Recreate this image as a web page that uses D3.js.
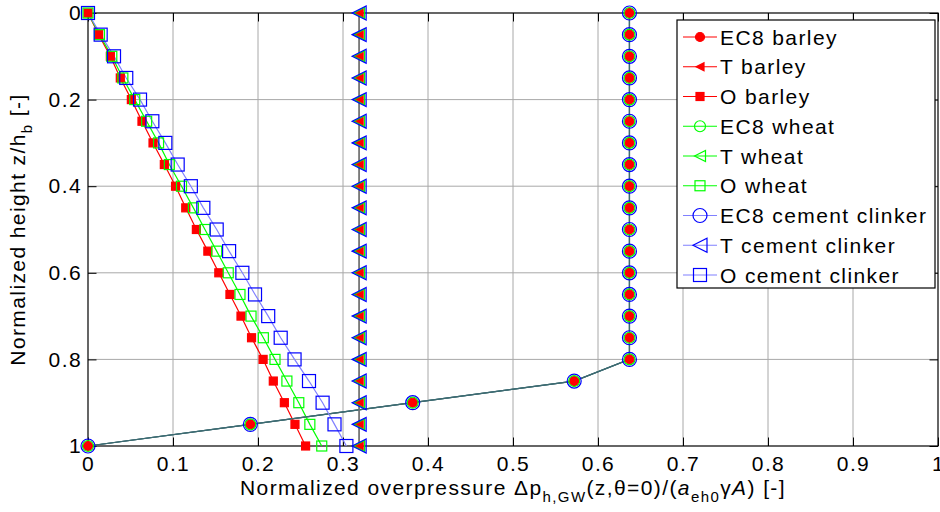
<!DOCTYPE html>
<html>
<head>
<meta charset="utf-8">
<script src="https://cdn.jsdelivr.net/npm/d3@7"></script>
<style>
  body { margin: 0; background: #fff; }
  svg text { font-family: "Liberation Sans", Arial, sans-serif; letter-spacing: 1.4px; }
</style>
</head>
<body>
<svg id="chart" width="940" height="512"></svg>
<script>
// normalized height z/h_b (vertical axis)
var zLevels = [0, 0.05, 0.1, 0.15, 0.2, 0.25, 0.3, 0.35, 0.4, 0.45, 0.5,
               0.55, 0.6, 0.65, 0.7, 0.75, 0.8, 0.85, 0.9, 0.95, 1];

// EC8 (all three grains give the same curve)
var ec8Barley = [0.637, 0.637, 0.637, 0.637, 0.637, 0.637, 0.637, 0.637, 0.637, 0.637, 0.637,
                 0.637, 0.637, 0.637, 0.637, 0.637, 0.637, 0.572, 0.382, 0.191, 0];
var ec8Wheat  = [0.637, 0.637, 0.637, 0.637, 0.637, 0.637, 0.637, 0.637, 0.637, 0.637, 0.637,
                 0.637, 0.637, 0.637, 0.637, 0.637, 0.637, 0.572, 0.382, 0.191, 0];
var ec8Cement = [0.637, 0.637, 0.637, 0.637, 0.637, 0.637, 0.637, 0.637, 0.637, 0.637, 0.637,
                 0.637, 0.637, 0.637, 0.637, 0.637, 0.637, 0.572, 0.382, 0.191, 0];

// T (constant)
var tBarley = [0.319, 0.319, 0.319, 0.319, 0.319, 0.319, 0.319, 0.319, 0.319, 0.319, 0.319,
               0.319, 0.319, 0.319, 0.319, 0.319, 0.319, 0.319, 0.319, 0.319, 0.319];
var tWheat  = [0.319, 0.319, 0.319, 0.319, 0.319, 0.319, 0.319, 0.319, 0.319, 0.319, 0.319,
               0.319, 0.319, 0.319, 0.319, 0.319, 0.319, 0.319, 0.319, 0.319, 0.319];
var tCement = [0.319, 0.319, 0.319, 0.319, 0.319, 0.319, 0.319, 0.319, 0.319, 0.319, 0.319,
               0.319, 0.319, 0.319, 0.319, 0.319, 0.319, 0.319, 0.319, 0.319, 0.319];

// O
var oBarley = [0, 0.0125, 0.0263, 0.038, 0.051, 0.0635, 0.0765, 0.0898, 0.103, 0.115, 0.1275,
               0.141, 0.1539, 0.167, 0.180, 0.1924, 0.206, 0.218, 0.231, 0.2435, 0.256];
var oWheat  = [0, 0.0135, 0.028, 0.041, 0.055, 0.069, 0.083, 0.0957, 0.110, 0.124, 0.1376,
               0.1514, 0.165, 0.1788, 0.1918, 0.2063, 0.220, 0.234, 0.248, 0.261, 0.275];
var oCement = [0, 0.0149, 0.0306, 0.045, 0.0612, 0.0757, 0.091, 0.1055, 0.121, 0.1357, 0.1514,
               0.166, 0.1816, 0.1965, 0.212, 0.2267, 0.243, 0.260, 0.276, 0.290, 0.304];

var seriesNames = ["EC8 barley", "T barley", "O barley",
                   "EC8 wheat", "T wheat", "O wheat",
                   "EC8 cement clinker", "T cement clinker", "O cement clinker"];
var seriesValues = [ec8Barley, tBarley, oBarley, ec8Wheat, tWheat, oWheat, ec8Cement, tCement, oCement];

var xTicks = [0, 0.1, 0.2, 0.3, 0.4, 0.5, 0.6, 0.7, 0.8, 0.9, 1];
var xTickLabels = ["0", "0.1", "0.2", "0.3", "0.4", "0.5", "0.6", "0.7", "0.8", "0.9", "1"];
var yTicks = [0, 0.2, 0.4, 0.6, 0.8, 1];
var yTickLabels = ["0", "0.2", "0.4", "0.6", "0.8", "1"];

// marker / line look for each series (same order as seriesNames)
var styles = [
  {shape: "circle", size: 9,  fill: "#ff0000", stroke: "#ff0000", line: "#3d6b72"},
  {shape: "tri",    size: 8,  fill: "#ff0000", stroke: "#ff0000", line: "#777777"},
  {shape: "square", size: 8,  fill: "#ff0000", stroke: "#ff0000", line: "#ff0000"},
  {shape: "circle", size: 11, fill: "none",    stroke: "#00ff00", line: "#3d6b72"},
  {shape: "tri",    size: 11, fill: "none",    stroke: "#00ff00", line: "#777777"},
  {shape: "square", size: 10, fill: "none",    stroke: "#00ff00", line: "#00ff00"},
  {shape: "circle", size: 14, fill: "none",    stroke: "#0000ff", line: "#3d6b72"},
  {shape: "tri",    size: 14, fill: "none",    stroke: "#0000ff", line: "#777777"},
  {shape: "square", size: 13, fill: "none",    stroke: "#0000ff", line: "#8080ff"}
];
var legendLine = ["#ff0000", "#ff0000", "#ff0000", "#00ff00", "#00ff00", "#00ff00", "#8080ff", "#8080ff", "#8080ff"];

var svg = d3.select("#chart"),
    margin = {top: 13, right: 2, bottom: 66, left: 88},
    width = +svg.attr("width") - margin.left - margin.right,
    height = +svg.attr("height") - margin.top - margin.bottom,
    g = svg.append("g").attr("transform", "translate(" + margin.left + "," + margin.top + ")");

var x = d3.scaleLinear().domain([0, 1]).range([0, width]);
var y = d3.scaleLinear().domain([0, 1]).range([0, height]);

// grid
g.append("g").selectAll("line").data(xTicks.slice(1, -1)).enter().append("line")
    .attr("x1", function(d) { return x(d); }).attr("x2", function(d) { return x(d); })
    .attr("y1", 0).attr("y2", height)
    .attr("stroke", "#a8a8a8").attr("stroke-width", 1);
g.append("g").selectAll("line").data(yTicks.slice(1, -1)).enter().append("line")
    .attr("y1", function(d) { return y(d); }).attr("y2", function(d) { return y(d); })
    .attr("x1", 0).attr("x2", width)
    .attr("stroke", "#a8a8a8").attr("stroke-width", 1);

// axes with inward ticks
function styleAxis(a) {
  a.select(".domain").remove();
  a.selectAll(".tick line").attr("stroke", "#000");
  a.selectAll("text").attr("fill", "#000").attr("font-size", 21)
    .attr("font-family", "'Liberation Sans', Arial, sans-serif");
}
g.append("g").attr("transform", "translate(0," + height + ")")
  .call(d3.axisBottom(x).tickValues(xTicks).tickFormat(function(d, i) { return xTickLabels[i]; })
        .tickSizeInner(-8.5).tickSizeOuter(0).tickPadding(10))
  .call(styleAxis);
g.append("g")
  .call(d3.axisTop(x).tickValues(xTicks).tickFormat("").tickSizeInner(-8.5).tickSizeOuter(0))
  .call(styleAxis);
g.append("g")
  .call(d3.axisLeft(y).tickValues(yTicks).tickFormat(function(d, i) { return yTickLabels[i]; })
        .tickSizeInner(-8.5).tickSizeOuter(0).tickPadding(6))
  .call(styleAxis);
g.append("g").attr("transform", "translate(" + width + ",0)")
  .call(d3.axisRight(y).tickValues(yTicks).tickFormat("").tickSizeInner(-8.5).tickSizeOuter(0))
  .call(styleAxis);

g.append("rect").attr("width", width).attr("height", height)
  .attr("fill", "none").attr("stroke", "#000").attr("stroke-width", 1.2);

function drawMarker(sel, st) {
  var s = st.size;
  if (st.shape == "circle") {
    sel.append("circle").attr("r", s / 2);
  } else if (st.shape == "square") {
    sel.append("rect").attr("x", -s / 2).attr("y", -s / 2).attr("width", s).attr("height", s);
  } else {
    sel.append("path").attr("d", "M" + (-s / 2) + ",0L" + (s / 2) + "," + (-s / 2) + "L" + (s / 2) + "," + (s / 2) + "Z");
  }
  sel.selectAll("circle,rect,path")
    .attr("fill", st.fill).attr("stroke", st.stroke).attr("stroke-width", 1.2);
}

var line = d3.line()
    .x(function(d) { return x(d[0]); })
    .y(function(d) { return y(d[1]); });

// lines first, then markers (barley, wheat, cement order)
seriesValues.forEach(function(vals, k) {
  var pts = vals.map(function(v, i) { return [v, zLevels[i]]; });
  g.append("path").datum(pts)
    .attr("fill", "none").attr("stroke", styles[k].line).attr("stroke-width", 1.2)
    .attr("d", line);
});
seriesValues.forEach(function(vals, k) {
  var pts = vals.map(function(v, i) { return [v, zLevels[i]]; });
  g.append("g").selectAll("g").data(pts).enter().append("g")
    .attr("transform", function(d) { return "translate(" + x(d[0]) + "," + y(d[1]) + ")"; })
    .each(function() { drawMarker(d3.select(this), styles[k]); });
});

// axis titles
var xt = svg.append("text")
    .attr("x", margin.left + width / 2).attr("y", 495)
    .attr("text-anchor", "middle").attr("font-size", 21);
xt.append("tspan").text("Normalized overpressure \u0394p");
xt.append("tspan").attr("dy", 7).attr("font-size", 15).text("h,GW");
xt.append("tspan").attr("dy", -7).text("(z,\u03b8=0)/(");
xt.append("tspan").attr("font-style", "italic").text("a");
xt.append("tspan").attr("dy", 7).attr("font-size", 15).text("eh0");
xt.append("tspan").attr("dy", -7).text("\u03b3");
xt.append("tspan").attr("font-style", "italic").text("A");
xt.append("tspan").text(") [-]");

var yt = svg.append("text")
    .attr("transform", "translate(25," + (margin.top + height / 2) + ") rotate(-90)")
    .attr("text-anchor", "middle").attr("font-size", 21);
yt.append("tspan").text("Normalized height z/h");
yt.append("tspan").attr("dy", 7).attr("font-size", 15).text("b");
yt.append("tspan").attr("dy", -7).text(" [-]");

// legend
var legend = svg.append("g").attr("transform", "translate(677,20)");
legend.append("rect").attr("width", 258).attr("height", 268)
  .attr("fill", "#fff").attr("stroke", "#000").attr("stroke-width", 1.2);
var item = legend.selectAll("g.item").data(seriesNames).enter().append("g")
    .attr("class", "item")
    .attr("transform", function(d, i) { return "translate(0," + (17 + i * 29.75) + ")"; });
item.append("line").attr("x1", 6).attr("x2", 40)
  .attr("stroke", function(d, i) { return legendLine[i]; }).attr("stroke-width", 1.2);
item.append("g").attr("transform", "translate(23,0)")
  .each(function(d, i) { drawMarker(d3.select(this), styles[i]); });
item.append("text").attr("x", 43).attr("dy", "0.36em").attr("font-size", 21)
  .text(function(d) { return d; });
</script>
</body>
</html>
